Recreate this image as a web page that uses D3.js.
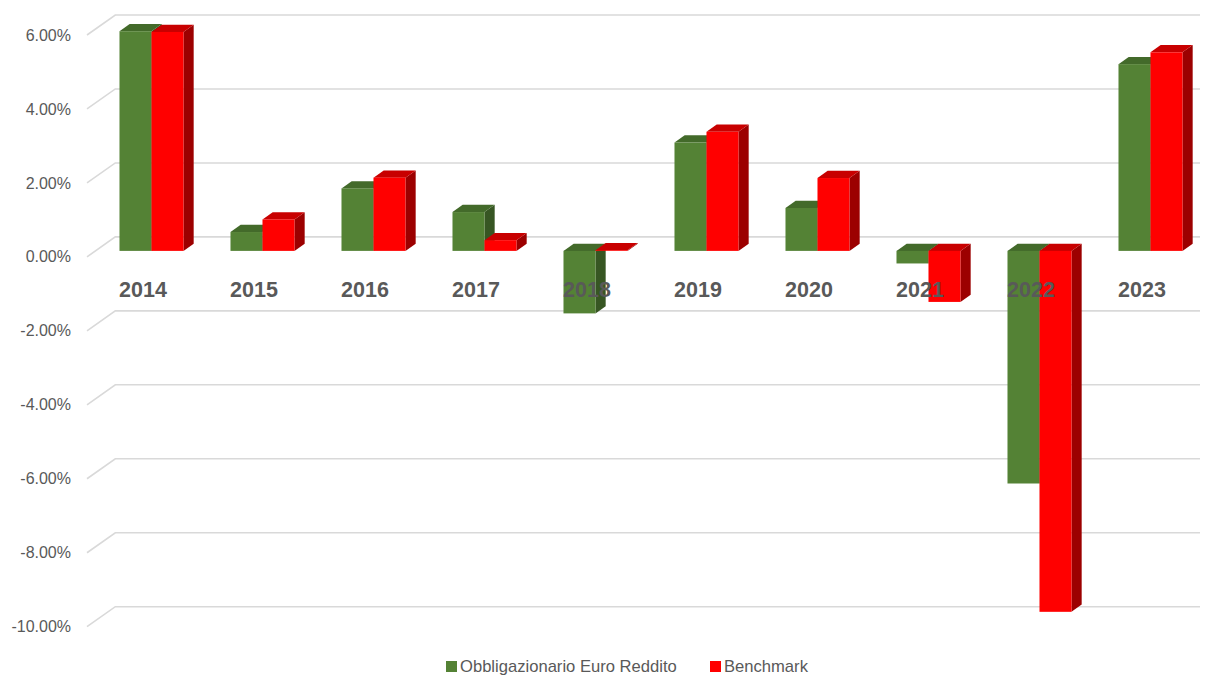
<!DOCTYPE html>
<html>
<head>
<meta charset="utf-8">
<script src="https://cdn.jsdelivr.net/npm/d3@7"></script>
<style>
  body { margin: 0; background: #fff; }
  svg { display: block; }
</style>
</head>
<body>
<div id="main"></div>
<script>
var years = ["2014", "2015", "2016", "2017", "2018", "2019", "2020", "2021", "2022", "2023"];
var fondo = [5.94, 0.51, 1.69, 1.05, -1.69, 2.93, 1.16, -0.34, -6.29, 5.05];
var benchmark = [5.92, 0.85, 1.98, 0.29, 0.02, 3.22, 1.97, -1.38, -9.76, 5.37];
var seriesNames = ["Obbligazionario Euro Reddito", "Benchmark"];
var yTicks = [6, 4, 2, 0, -2, -4, -6, -8, -10];

var width = 1214, height = 677;

var colors = [
  { front: "#548235", top: "#436a2a", side: "#375623" },
  { front: "#ff0000", top: "#c80000", side: "#9c0000" }
];

// oblique depth of the floor (front -> back wall)
var depthX = 28.3, depthY = -20;
// bars sit between these depth fractions
var barD1 = 0.3, barD2 = 0.66;

var svg = d3.select("#main").append("svg")
  .attr("width", width)
  .attr("height", height);

// front-plane scales
var x = d3.scaleBand().domain(years).range([87.5, 1197.5]);
var y = d3.scaleLinear().domain([-10, 6]).range([626.7, 35]);

var inner = d3.scaleBand().domain([0, 1])
  .range([23.5, x.bandwidth() - 23.5]);

// gridlines: short diagonal on the floor edge + line on the back wall
var grid = svg.append("g");
yTicks.forEach(function(t) {
  var y0 = y(t);
  grid.append("path")
    .attr("d", "M" + 87 + "," + y0 + "L" + (87 + depthX) + "," + (y0 + depthY) + "L" + 1200 + "," + (y0 + depthY))
    .attr("fill", "none")
    .attr("stroke", "#d9d9d9")
    .attr("stroke-width", 1.6);
});

// y tick labels
svg.append("g").selectAll("text")
  .data(yTicks)
  .enter().append("text")
  .attr("x", 71)
  .attr("y", function(d) { return y(d); })
  .attr("dy", "0.35em")
  .attr("text-anchor", "end")
  .attr("font-family", "Liberation Sans, Arial, sans-serif")
  .attr("font-size", "16px")
  .attr("fill", "#595959")
  .text(function(d) { return d.toFixed(2) + "%"; });

// 3D bars
var bars = svg.append("g");
var fx1 = barD1 * depthX, fy1 = barD1 * depthY;
var dx = (barD2 - barD1) * depthX, dy = (barD2 - barD1) * depthY;

function pts(arr) {
  return arr.map(function(p) { return p[0] + "," + p[1]; }).join(" ");
}

years.forEach(function(yr, i) {
  [fondo[i], benchmark[i]].forEach(function(v, s) {
    var x0 = x(yr) + inner(s) + fx1;
    var x1 = x0 + inner.bandwidth();
    var yTop = y(Math.max(v, 0)) + fy1;
    var yBot = y(Math.min(v, 0)) + fy1;
    var c = colors[s];

    // right side face
    bars.append("polygon")
      .attr("points", pts([[x1, yTop], [x1 + dx, yTop + dy], [x1 + dx, yBot + dy], [x1, yBot]]))
      .attr("fill", c.side);
    // top face
    bars.append("polygon")
      .attr("points", pts([[x0, yTop], [x0 + dx, yTop + dy], [x1 + dx, yTop + dy], [x1, yTop]]))
      .attr("fill", c.top);
    // front face
    bars.append("rect")
      .attr("x", x0)
      .attr("y", yTop)
      .attr("width", x1 - x0)
      .attr("height", Math.max(yBot - yTop, 0))
      .attr("fill", c.front);
  });
});

// category labels (on the front edge, drawn over bars)
svg.append("g").selectAll("text")
  .data(years)
  .enter().append("text")
  .attr("x", function(d) { return x(d) + x.bandwidth() / 2; })
  .attr("y", 297)
  .attr("text-anchor", "middle")
  .attr("font-family", "Liberation Sans, Arial, sans-serif")
  .attr("font-weight", "bold")
  .attr("font-size", "21.5px")
  .attr("fill", "#595959")
  .text(function(d) { return d; });

// legend
var legend = svg.append("g");
var legendX = [446, 710];
seriesNames.forEach(function(name, s) {
  legend.append("rect")
    .attr("x", legendX[s])
    .attr("y", 661)
    .attr("width", 11)
    .attr("height", 11)
    .attr("fill", colors[s].front);
  legend.append("text")
    .attr("x", legendX[s] + 14)
    .attr("y", 672)
    .attr("font-family", "Liberation Sans, Arial, sans-serif")
    .attr("font-size", "16.6px")
    .attr("fill", "#595959")
    .text(name);
});
</script>
</body>
</html>
